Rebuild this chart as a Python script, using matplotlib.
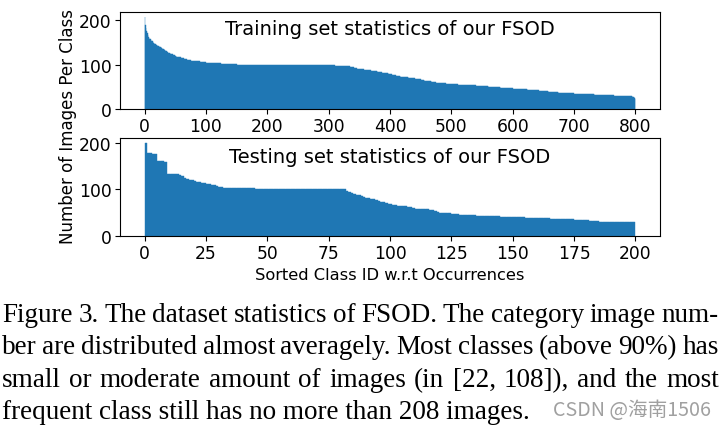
import numpy as np
import matplotlib
matplotlib.use('Agg')
import matplotlib.pyplot as plt

# ---- data (sorted per-class image counts, run-length: count value, number of classes) ----
train_counts = [208, 190, 182, 175, 170, 166, 163, 160, 158, 157,
                155, 153, 152, 150, 149, 148, 147, 146, 145, 144,
                143, 142, 141, 140, 139, 138, 137, 136,
                135, 134, 133, 132, 131, 130, 129, 128, 127, 126,
                125, 124, 123, 122, 121, 120,
                119, 118, 117, 116, 115, 114, 113, 112, 111, 110,
                109, 108, 107, 106, 105,
                104, 103, 102, 101,
                100, 99, 98, 97,
                96, 95, 94, 93, 92, 91, 90,
                89, 88, 87, 86,
                85, 84, 83, 82, 81, 80, 79,
                78, 77, 76, 75, 74, 73, 72,
                71, 70, 69, 68, 67,
                66, 65, 64, 63, 62, 61, 60,
                59, 58, 57,
                56, 55, 54, 53, 52,
                51, 50, 49, 48, 47,
                46, 45, 44, 43, 42, 41,
                40, 39, 38, 37, 36, 35,
                34, 33, 32,
                31, 30, 29,
                28, 27, 26, 24, 22]
train_num_classes = [1, 1, 1, 1, 1, 1, 1, 1, 1, 1,
                     1, 1, 1, 1, 1, 1, 1, 1, 1, 1,
                     1, 2, 1, 1, 2, 1, 1, 1,
                     1, 1, 1, 1, 1, 1, 1, 1, 1, 1,
                     2, 2, 2, 2, 1, 1,
                     2, 2, 2, 3, 2, 3, 2, 3, 3, 3,
                     5, 5, 5, 5, 5,
                     12, 12, 13, 13,
                     40, 80, 40, 20,
                     4, 4, 3, 3, 2, 2, 2,
                     7, 6, 6, 6,
                     4, 4, 4, 4, 3, 3, 3,
                     3, 3, 3, 4, 4, 4, 4,
                     5, 5, 5, 5, 5,
                     3, 3, 3, 4, 4, 4, 4,
                     8, 8, 9,
                     10, 10, 10, 10, 10,
                     10, 10, 10, 10, 10,
                     8, 8, 8, 9, 9, 8,
                     8, 8, 8, 9, 9, 8,
                     16, 17, 17,
                     15, 15, 15,
                     1, 1, 1, 1, 1]

test_counts = [200,
               178, 176, 175,
               161, 160, 159,
               133, 132, 131,
               128, 125, 123,
               121, 119, 117, 116, 115,
               114, 113, 112, 111, 110, 109, 107, 106, 104,
               103, 102, 101,
               100,
               96, 94, 92, 90, 88, 87, 85, 83, 82, 81, 80, 79, 77, 75, 73, 72, 70, 69,
               68, 66, 65, 64, 63,
               60, 58, 57, 56, 54, 52,
               50, 49, 48, 47, 46, 45,
               44, 43, 42, 41,
               40, 39, 38, 37, 36,
               35, 34, 33, 32,
               31, 30]
test_num_classes = [1,
                    2, 1, 1,
                    1, 2, 1,
                    2, 3, 1,
                    1, 1, 1,
                    1, 1, 1, 1, 1,
                    1, 1, 1, 1, 1, 1, 1, 1, 1,
                    7, 6, 6,
                    31,
                    1, 1, 1, 1, 1, 1, 1, 1, 1, 1, 1, 1, 1, 1, 1, 1, 1, 1,
                    1, 2, 2, 2, 2,
                    1, 3, 3, 2, 1, 1,
                    3, 2, 2, 1, 1, 1,
                    5, 5, 5, 5,
                    5, 5, 5, 5, 5,
                    3, 3, 2, 2,
                    5, 10]

train_xticks = [0, 100, 200, 300, 400, 500, 600, 700, 800]
test_xticks = [0, 25, 50, 75, 100, 125, 150, 175, 200]
yticks = [0, 100, 200]

train_title = "Training set statistics of our FSOD"
test_title = "Testing set statistics of our FSOD"
ylabel = "Number of Images Per Class"
xlabel = "Sorted Class ID w.r.t Occurrences"

caption_lines = [
    "Figure 3. The dataset statistics of FSOD. The category image num-",
    "ber are distributed almost averagely. Most classes (above 90%) has",
    "small or moderate amount of images (in [22, 108]), and the most",
    "frequent class still has no more than 208 images.",
]
watermark = "CSDN @海南1506"

train_values = np.repeat(train_counts, train_num_classes)
test_values = np.repeat(test_counts, test_num_classes)

# ---- figure ----
W, H = 727, 427
fig = plt.figure(figsize=(W / 100, H / 100), dpi=100)


def rect(l, t, r, b):
    return [l / W, 1 - b / H, (r - l) / W, (b - t) / H]


color = '#1f77b4'
TICK_FS = 12.3
TITLE_FS = 14
XLABEL_FS = 11.7
YLABEL_FS = 12

ax1 = fig.add_axes(rect(120, 13, 660, 110))
ax2 = fig.add_axes(rect(120, 139, 660, 237))

ax1.bar(np.arange(len(train_values)), train_values, width=1.0, align='edge',
        color=color, edgecolor=color, linewidth=0.3)
ax2.bar(np.arange(len(test_values)), test_values, width=1.0, align='edge',
        color=color, edgecolor=color, linewidth=0.3)

for ax, xt in ((ax1, train_xticks), (ax2, test_xticks)):
    ax.set_xticks(xt)
    ax.set_yticks(yticks)
    ax.tick_params(labelsize=TICK_FS, pad=2.5)

ax1.text(0.5, 0.825, train_title, transform=ax1.transAxes, ha='center', va='center', fontsize=TITLE_FS)
ax2.text(0.5, 0.816, test_title, transform=ax2.transAxes, ha='center', va='center', fontsize=TITLE_FS)

fig.text(68 / W, 1 - 127 / H, ylabel, rotation=90, ha='center', va='center', fontsize=YLABEL_FS)
fig.text(390 / W, 1 - 275 / H, xlabel, ha='center', va='center', fontsize=XLABEL_FS)

# ---- caption (justified serif text) ----
renderer = fig.canvas.get_renderer()
cap_family = 'Liberation Serif'


def width_of(s, size, family=cap_family):
    t = fig.text(0, 0, s, fontsize=size, family=family)
    w = t.get_window_extent(renderer).width
    t.remove()
    return w


cap_size = 10 * 528 / width_of(caption_lines[-1], 10)
left_px, right_px = 2, 719
baselines = [322, 354, 387, 419]

for i, line in enumerate(caption_lines):
    y = 1 - baselines[i] / H
    if i == len(caption_lines) - 1:
        fig.text(left_px / W, y, line, fontsize=cap_size, family=cap_family,
                 ha='left', va='baseline', color='black')
        continue
    words = line.split(' ')
    widths = [width_of(w, cap_size) for w in words]
    gap = (right_px - left_px - sum(widths)) / (len(words) - 1)
    x = left_px
    for w, wd in zip(words, widths):
        fig.text(x / W, y, w, fontsize=cap_size, family=cap_family,
                 ha='left', va='baseline', color='black')
        x += wd + gap

wm_fam = ['Noto Sans CJK SC', 'DejaVu Sans']
wm_size = 10 * 158 / width_of(watermark, 10, wm_fam)
fig.text(553 / W, 1 - 411 / H, watermark, fontsize=wm_size, family=wm_fam,
         ha='left', va='center', color='#a0a0a0')

fig.savefig('out.png', dpi=100)
